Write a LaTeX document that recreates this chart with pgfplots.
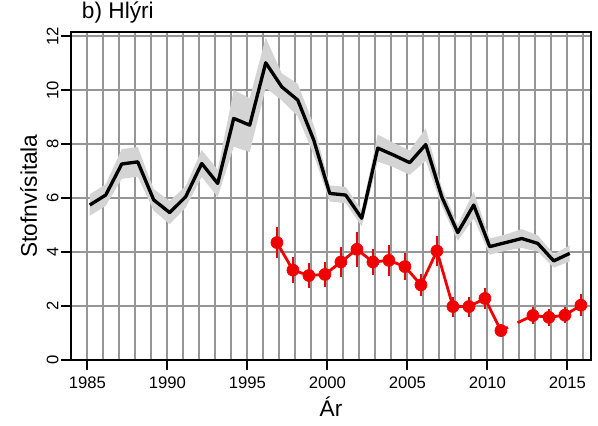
\documentclass[border=0pt]{standalone}
\usepackage{fontspec}
\setmainfont{Liberation Sans}
\usepackage{pgfplots}
\usepackage{pgfplotstable}
\pgfplotsset{compat=1.18}
\usepgfplotslibrary{fillbetween}
\definecolor{gridgray}{RGB}{150,150,150}
\definecolor{band}{RGB}{212,212,212}
\definecolor{hred}{RGB}{240,0,0}
\newcommand\tickfont{\fontsize{12.5}{15}\selectfont}
\newcommand\labfont{\fontsize{17}{20}\selectfont}

% spring survey: index and half-width of grey band
\pgfplotstableread{
year idx se
1985 5.74 0.40
1986 6.11 0.40
1987 7.26 0.55
1988 7.34 0.55
1989 5.93 0.40
1990 5.46 0.43
1991 6.05 0.40
1992 7.28 0.50
1993 6.54 0.50
1994 8.95 1.05
1995 8.70 1.00
1996 11.01 0.93
1997 10.12 0.50
1998 9.63 0.60
1999 8.15 0.55
2000 6.17 0.30
2001 6.11 0.30
2002 5.25 0.30
2003 7.85 0.50
2004 7.59 0.45
2005 7.31 0.45
2006 7.98 0.60
2007 6.05 0.35
2008 4.72 0.30
2009 5.74 0.50
2010 4.20 0.30
2011 4.35 0.30
2012 4.50 0.35
2013 4.32 0.30
2014 3.67 0.25
2015 3.95 0.30
}\stofn

% autumn survey with error bars (no value 2012)
\pgfplotstableread{
year idx se
1997 4.35 0.57
1998 3.33 0.49
1999 3.13 0.46
2000 3.17 0.45
2001 3.63 0.56
2002 4.10 0.66
2003 3.63 0.49
2004 3.69 0.56
2005 3.46 0.49
2006 2.78 0.41
2007 4.04 0.54
2008 1.98 0.37
2009 1.98 0.37
2010 2.28 0.38
2011 1.09 0.25
}\haustA
\pgfplotstableread{
year idx se
2013 1.65 0.31
2014 1.58 0.31
2015 1.66 0.30
2016 2.03 0.40
}\haustB

\pgfplotsset{haust/.style={hred, line width=2.1pt, line join=round, mark=*, mark size=4.5pt,
    mark options={solid, fill=hred, draw=hred, line width=0.5pt},
    error bars/.cd, y dir=both, y explicit, error mark=none,
    error bar style={line width=2.1pt, hred}}}

\begin{document}
\begin{tikzpicture}
\begin{axis}[
    scale only axis, width=390pt, height=245.8pt,
    xmin=1983.98, xmax=2016.48, ymin=0, ymax=12.14,
    xtick={1985,1990,...,2015},
    xticklabels={1985,1990,1995,2000,2005,2010,2015},
    ytick={0,2,...,12},
    yticklabels={0,2,4,6,8,10,12},
    minor xtick={1986,...,2016},
    xmajorgrids, xminorgrids, ymajorgrids,
    grid style={gridgray, line width=1.35pt},
    minor grid style={gridgray, line width=1.35pt},
    tick align=outside, xtick pos=bottom, ytick pos=left,
    major tick length=7.5pt, minor tick length=0pt,
    tick style={black, line width=1.3pt},
    axis line style={black, line width=1.4pt},
    xticklabel style={font=\tickfont, anchor=base, yshift=-14pt},
    yticklabel style={font=\tickfont, anchor=base, xshift=-2pt, rotate=90},
    xlabel={Ár}, ylabel={Stofnvísitala},
    xlabel style={font=\labfont, inner sep=0pt, at={(axis description cs:0.5,-0.171)}, anchor=base},
    ylabel style={font=\labfont, inner sep=0pt, at={(axis description cs:-0.0654,0.5)}, anchor=base},
    title={b) Hlýri},
    title style={font=\labfont, inner sep=0pt, at={(axis description cs:0.0206,1.017)}, anchor=base west},
]
\addplot[name path=up, draw=none] table[x expr=\thisrow{year}+0.15, y expr=\thisrow{idx}+\thisrow{se}] {\stofn};
\addplot[name path=lo, draw=none] table[x expr=\thisrow{year}+0.15, y expr=\thisrow{idx}-\thisrow{se}] {\stofn};
\addplot[band, draw=none] fill between[of=up and lo];
\addplot[black, line width=2.5pt, line join=round] table[x expr=\thisrow{year}+0.15, y=idx] {\stofn};
\addplot[hred, line width=2.1pt, dash pattern=on 5.8pt off 8pt on 30pt off 1pt] coordinates {(2010.85,1.09) (2012.85,1.65)};
\addplot[haust] table[x expr=\thisrow{year}-0.15, y=idx, y error=se] {\haustA};
\addplot[haust] table[x expr=\thisrow{year}-0.15, y=idx, y error=se] {\haustB};
\end{axis}
\path (-53.25pt,-48.75pt) rectangle (395.25pt,270pt);
\end{tikzpicture}
\end{document}
